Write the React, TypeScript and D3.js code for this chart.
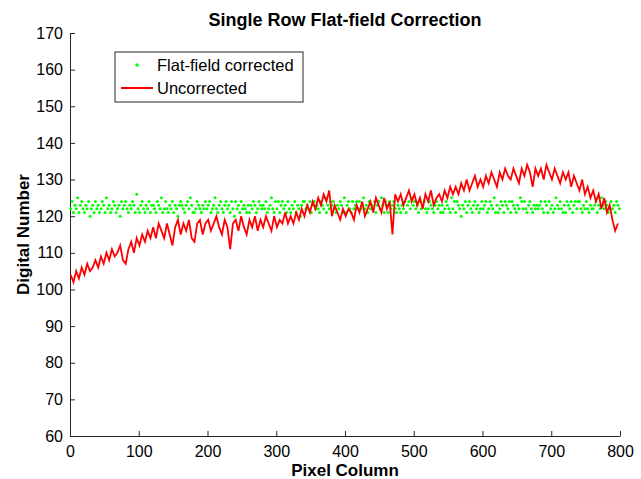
import React, { useEffect, useRef } from 'react';
import * as d3 from 'd3';

// red trace, sampled every 4 pixel columns starting at column 1
const redStart = 1;
const redStep = 4;
const redValues = [
  104, 102, 105, 103, 106, 104, 107, 105, 106, 108,
  106, 109, 107, 110, 108, 111, 109, 110, 112, 108,
  107, 111, 113, 110, 114, 112, 115, 113, 116, 114,
  117, 114, 118, 116, 114, 118, 115, 112, 117, 119,
  115, 118, 116, 119, 114, 113, 118, 119, 115, 118,
  119, 116, 118, 120, 117, 115, 119, 117, 111, 118,
  119, 116, 120, 117, 115, 119, 117, 120, 116, 119,
  117, 120, 118, 116, 120, 117, 119, 118, 121, 118,
  120, 118, 121, 119, 122, 120, 123, 121, 124, 122,
  125, 123, 126, 124, 127, 120, 123, 121, 119, 122,
  120, 122, 121, 119, 123, 121, 124, 120, 122, 124,
  121, 125, 123, 121, 125, 122, 124, 115, 126, 124,
  126, 123, 125, 127, 124, 126, 123, 125, 122, 126,
  124, 127, 123, 125, 126, 124, 127, 125, 128, 126,
  128, 126, 129, 127, 130, 127, 129, 131, 128, 130,
  128, 131, 129, 132, 130, 128, 132, 130, 133, 131,
  130, 133, 131, 129, 133, 131, 134, 132, 128, 133,
  131, 133, 130, 134, 132, 130, 133, 131, 129, 132,
  130, 132, 128, 131, 129, 127, 130, 126, 128, 125,
  127, 124, 126, 122, 125, 121, 123, 119, 116, 118,
];

// green dots, sampled every 2 pixel columns starting at column 1
const greenStart = 1;
const greenStep = 2;
const greenValues = [
  122, 124, 121, 123, 122, 125, 121, 123, 124, 122,
  121, 123, 122, 124, 120, 122, 123, 121, 124, 122,
  123, 121, 122, 124, 123, 121, 125, 122, 123, 121,
  122, 124, 123, 121, 122, 123, 120, 124, 122, 123,
  124, 122, 121, 123, 122, 124, 123, 121, 126, 122,
  121, 123, 124, 122, 121, 123, 122, 124, 121, 123,
  123, 122, 121, 124, 123, 122, 125, 121, 122, 124,
  122, 121, 123, 122, 124, 121, 123, 122, 120, 123,
  124, 123, 122, 121, 123, 124, 122, 125, 123, 121,
  121, 122, 124, 123, 122, 121, 123, 122, 124, 122,
  123, 124, 121, 122, 123, 125, 122, 121, 123, 124,
  122, 121, 123, 124, 122, 123, 121, 124, 122, 120,
  124, 122, 123, 121, 124, 122, 123, 122, 121, 123,
  121, 123, 122, 124, 123, 121, 122, 124, 123, 122,
  123, 122, 124, 121, 122, 123, 125, 122, 121, 124,
  122, 124, 121, 123, 124, 122, 123, 121, 124, 122,
  121, 123, 122, 124, 121, 123, 122, 120, 123, 124,
  124, 122, 123, 122, 124, 121, 123, 124, 122, 123,
  122, 121, 124, 123, 122, 125, 121, 123, 122, 124,
  123, 124, 122, 121, 123, 122, 124, 123, 121, 125,
  121, 123, 124, 122, 121, 124, 122, 123, 124, 122,
  124, 122, 123, 125, 122, 123, 121, 124, 122, 123,
  122, 124, 121, 123, 124, 122, 125, 123, 121, 124,
  123, 121, 124, 122, 123, 124, 122, 121, 123, 122,
  121, 123, 122, 124, 121, 123, 124, 122, 125, 123,
  124, 122, 123, 121, 124, 122, 123, 124, 122, 121,
  122, 124, 123, 122, 121, 123, 124, 122, 123, 121,
  123, 121, 122, 124, 123, 122, 121, 125, 122, 124,
  121, 124, 123, 122, 120, 123, 122, 124, 121, 123,
  124, 122, 121, 123, 124, 122, 123, 121, 122, 124,
  122, 123, 124, 121, 122, 124, 123, 122, 125, 121,
  123, 121, 122, 124, 123, 121, 124, 123, 122, 124,
  121, 124, 123, 122, 121, 123, 122, 125, 124, 122,
  124, 122, 121, 123, 124, 122, 121, 123, 122, 123,
  122, 123, 124, 122, 121, 124, 123, 121, 124, 122,
  123, 121, 122, 125, 123, 122, 124, 122, 121, 123,
  121, 124, 123, 122, 124, 121, 123, 124, 122, 124,
  124, 122, 121, 123, 122, 124, 122, 121, 123, 122,
  122, 123, 124, 121, 123, 122, 125, 123, 122, 124,
  123, 121, 122, 124, 122, 123, 121, 124, 123, 122,
];

const xTicks = [0, 100, 200, 300, 400, 500, 600, 700, 800];
const yTicks = [60, 70, 80, 90, 100, 110, 120, 130, 140, 150, 160, 170];

const W = 641, H = 479;
const left = 70, right = 620, top = 33, bottom = 436;
const font = '"Liberation Sans", Arial, Helvetica, sans-serif';
const axisColor = '#262626';

export default function App() {
  const xAxisRef = useRef<SVGGElement>(null);
  const yAxisRef = useRef<SVGGElement>(null);

  const x = d3.scaleLinear().domain([0, 800]).range([left, right]);
  const y = d3.scaleLinear().domain([60, 170]).range([bottom, top]);

  const red = redValues.map((v, i) => [redStart + i * redStep, v] as [number, number]);
  const green = greenValues.map((v, i) => [greenStart + i * greenStep, v] as [number, number]);
  const line = d3.line<[number, number]>().x(d => x(d[0])).y(d => y(d[1]));

  useEffect(() => {
    const style = (g: d3.Selection<SVGGElement, unknown, null, undefined>) => {
      g.selectAll('path').attr('stroke', axisColor).attr('stroke-width', 1);
      g.selectAll('line').attr('stroke', axisColor);
      g.selectAll('text').attr('fill', '#000').attr('font-size', 16).attr('font-family', font);
    };
    const gx = d3.select(xAxisRef.current!);
    gx.call(d3.axisBottom(x).tickValues(xTicks).tickSizeInner(-5).tickSizeOuter(0).tickPadding(10));
    style(gx);
    const gy = d3.select(yAxisRef.current!);
    gy.call(d3.axisLeft(y).tickValues(yTicks).tickSizeInner(-5).tickSizeOuter(0).tickPadding(7));
    style(gy);
  }, []);

  return (
    <svg width={W} height={H} style={{ position: 'absolute', left: 0, top: 0, background: '#fff' }}>
      <rect width={W} height={H} fill="#fff" />
      <g ref={xAxisRef} transform={`translate(0,${bottom})`} />
      <g ref={yAxisRef} transform={`translate(${left},0)`} />

      {green.map((d, i) => (
        <circle key={i} cx={x(d[0])} cy={y(d[1])} r={1.5} fill="#00ff00" />
      ))}
      <path d={line(red) || ''} fill="none" stroke="#ff0000" strokeWidth={1.8} />

      <text x={(left + right) / 2} y={26} textAnchor="middle" fontFamily={font} fontWeight="bold" fontSize={18}>
        Single Row Flat-field Correction
      </text>
      <text x={(left + right) / 2} y={476} textAnchor="middle" fontFamily={font} fontWeight="bold" fontSize={17}>
        Pixel Column
      </text>
      <text transform={`translate(29,${(top + bottom) / 2}) rotate(-90)`} textAnchor="middle" fontFamily={font} fontWeight="bold" fontSize={17}>
        Digital Number
      </text>

      <g>
        <rect x={115} y={52} width={188} height={50} fill="#fff" stroke={axisColor} strokeWidth={1} />
        <circle cx={137} cy={65} r={1.8} fill="#00ff00" />
        <text x={157} y={71} fontFamily={font} fontSize={16.5}>Flat-field corrected</text>
        <line x1={121} x2={153} y1={88} y2={88} stroke="#ff0000" strokeWidth={2} />
        <text x={157} y={94} fontFamily={font} fontSize={16.5}>Uncorrected</text>
      </g>
    </svg>
  );
}
